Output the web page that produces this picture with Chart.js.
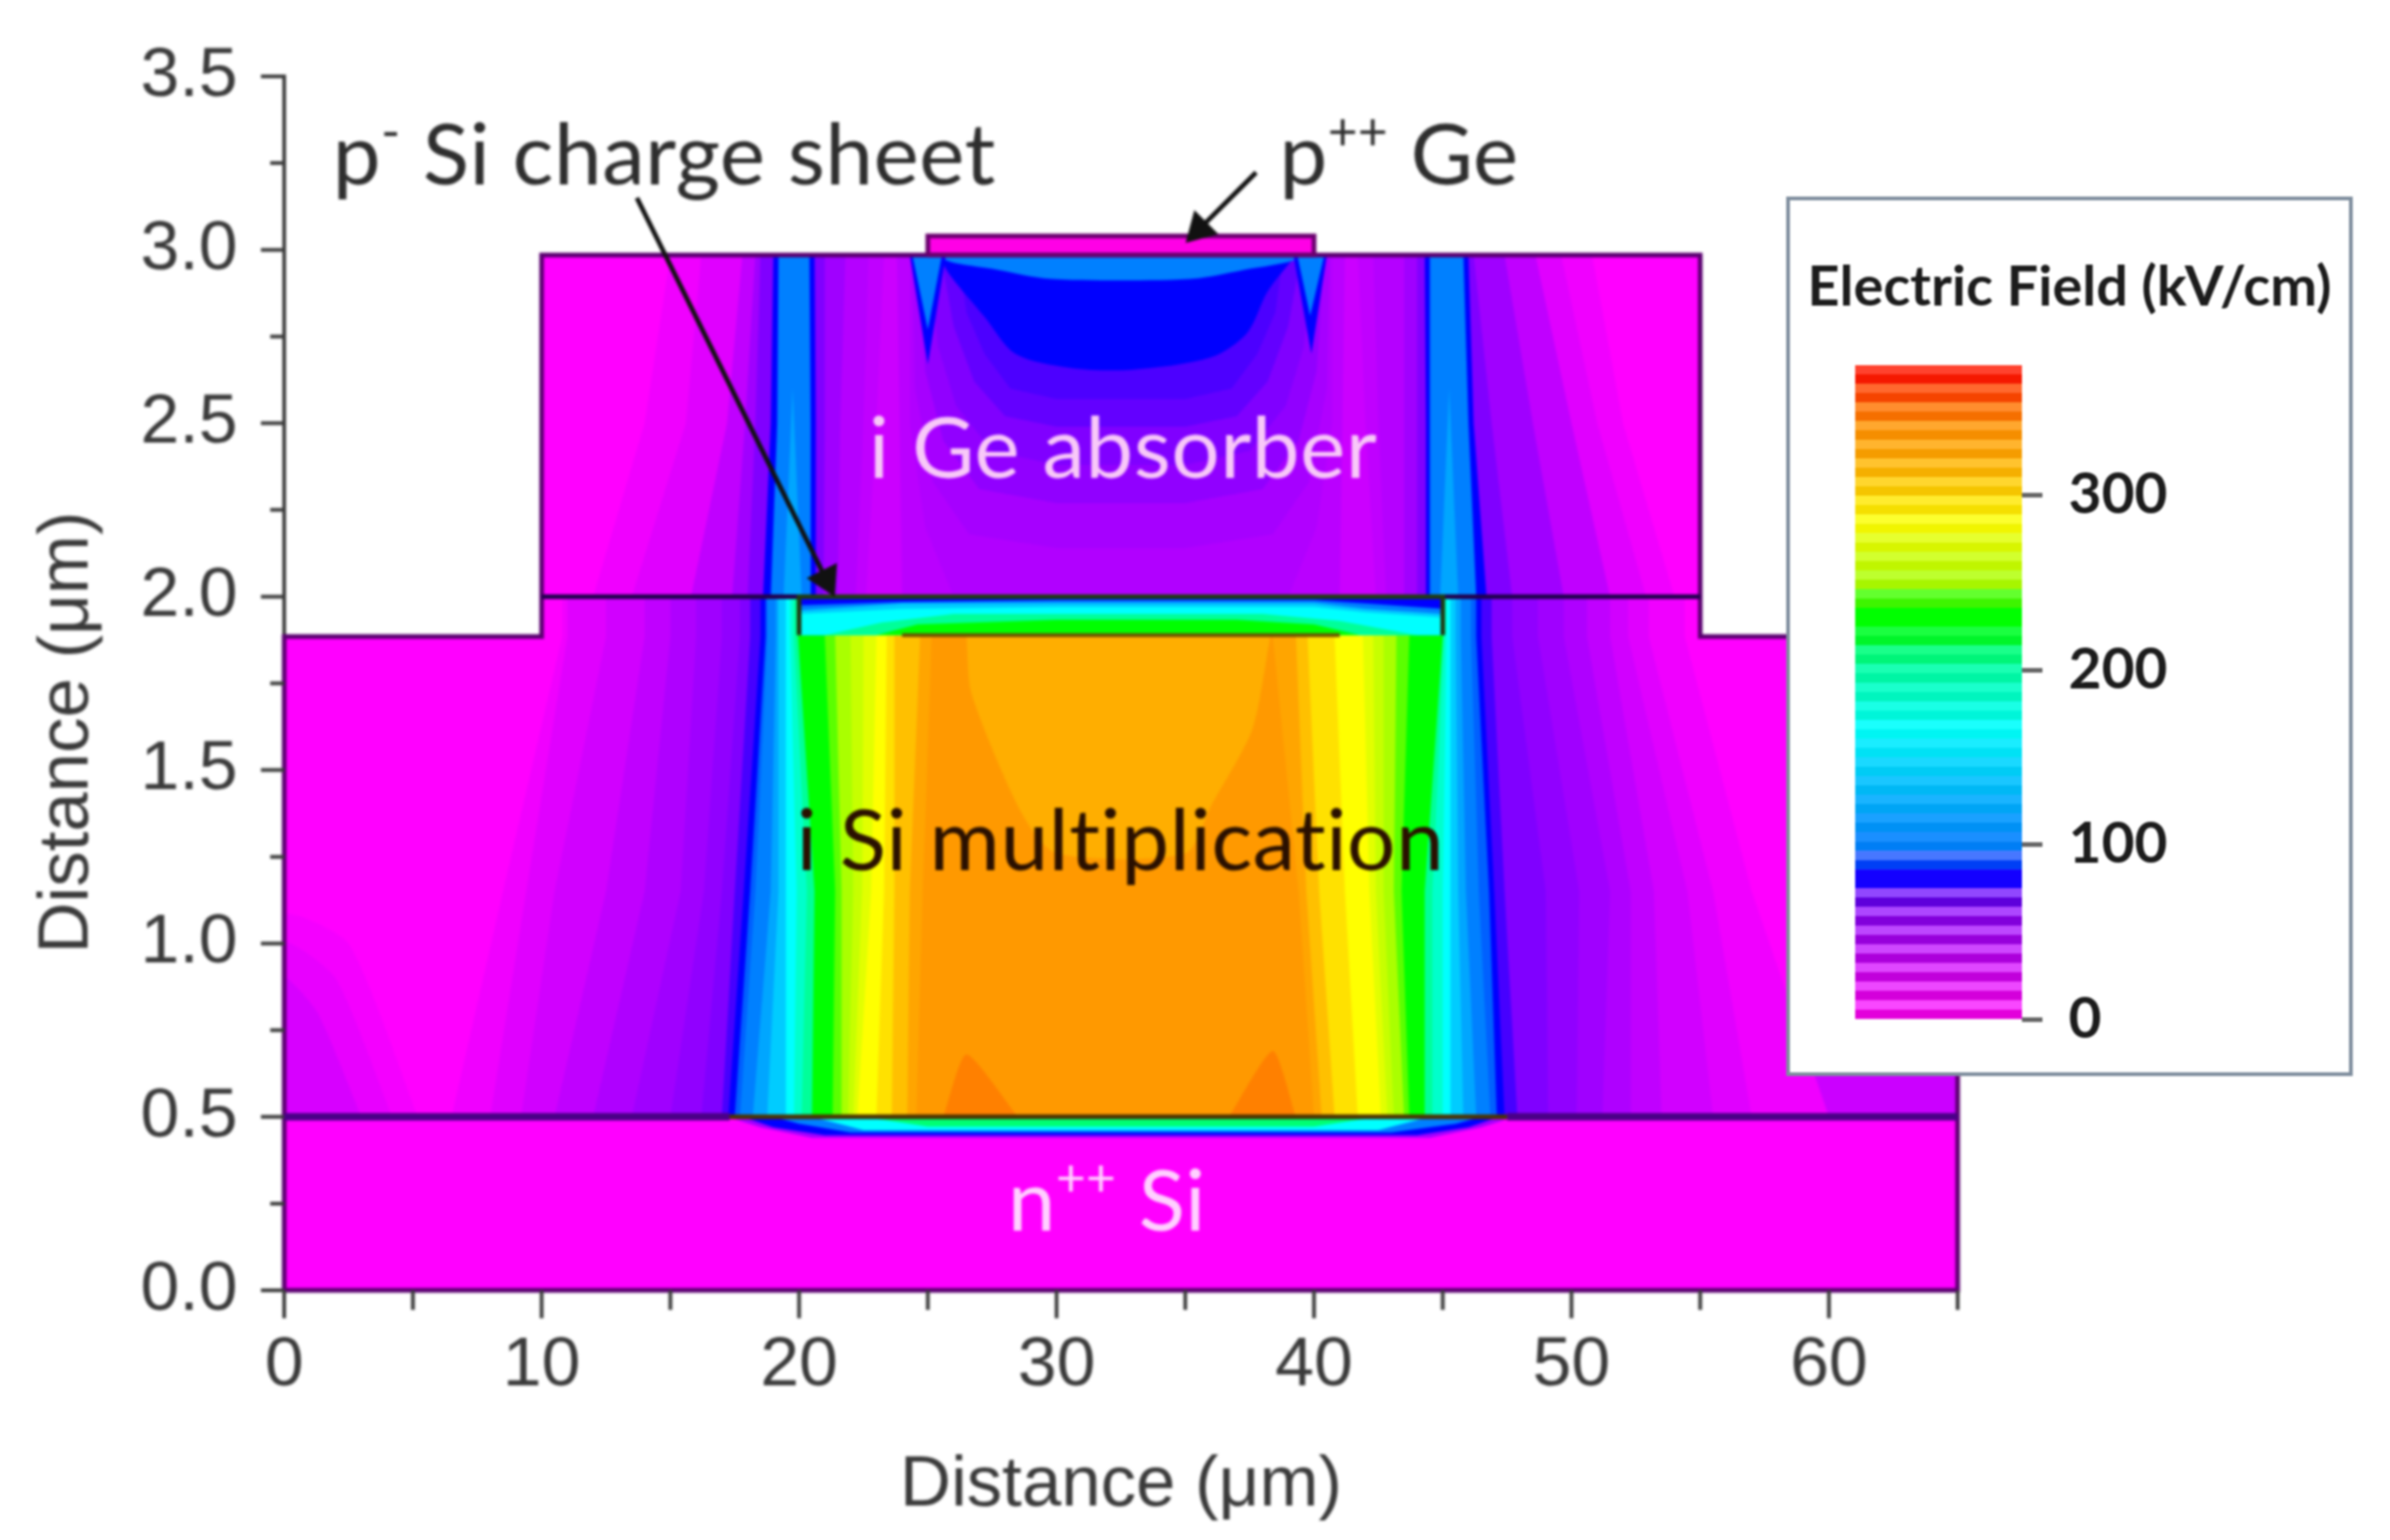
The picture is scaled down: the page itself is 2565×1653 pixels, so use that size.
<!DOCTYPE html>
<html>
<head>
<meta charset="utf-8">
<title>Electric field</title>
<script src="https://cdn.jsdelivr.net/npm/chart.js@4"></script>
<style>
  body { margin: 0; background: #fff; }
  #main { position: absolute; left: 0; top: 0; filter: blur(1.5px); }
  #legendBox { position: absolute; left: 1917px; top: 211px; width: 608px; height: 944px; box-sizing: border-box;
    border: 4px solid #7f8e9e; background: #fff; filter: blur(1.2px); }
  #legendBox canvas { display: block; }
</style>
</head>
<body>
<canvas id="main" width="2565" height="1653"></canvas>
<div id="legendBox"><canvas id="scale" width="600" height="936"></canvas></div>
<script>
// device cross-section, um
const outline = [[0,0],[65,0],[65,1.885],[55,1.885],[55,2.985],[10,2.985],[10,1.885],[0,1.885],[0,0]];
const contactCap = [[25,2.985],[25,3.04],[40,3.04],[40,2.985]];

// field levels (kV/cm) and where each contour sits
const siRows = [0.5, 1.15, 1.885, 2.0];
const siLevels = [10, 20, 27, 35, 43, 50, 57, 65, 75, 82, 95, 100, 120, 140, 165, 185, 205, 225, 235, 243, 250, 262, 273, 285, 297, 310, 325, 335];
const siLeft = [
  [6.5,8.5,10.8],[8,9.4,11],[9.2,10.5,12.5],[10.5,12.5,14],[12,14,15],[13.5,15.4,16],[15,16.3,17],
  [16.2,17,17.7],[17,17.5,18.1],[17.25,17.85,18.5],[17.5,18.1,18.7],[17.7,18.3,18.76],[18.2,18.9,19.1],
  [18.76,19.2,19.2],[19.48,19.5,19.48],[19.8,19.9,19.65],[20.1,20.3,19.8],[20.5,20.6,19.96],[21,21.05,20.7],
  [21.3,21.4,21],[21.65,21.65,21.4],[21.9,22.1,22],[22.1,22.45,22.5],[22.26,22.8,23],[23,23.3,23.4],
  [23.6,23.7,23.7],[24.2,24.3,24.7],[24.55,24.8,25.15]
];
const siRight = [
  [60,57,54.4],[57,55.5,53],[55.5,54.5,52.2],[53.5,53.2,51.5],[52.3,52.3,50.6],[51.2,51.5,49.7],[50.2,50.3,48.7],
  [49.1,49,47.7],[47.9,47.4,46.9],[47.4,47,46.5],[47.1,46.8,46.3],[46.85,46.4,46.1],[46.3,45.9,45.7],
  [45.8,45.6,45.5],[45.3,45.3,45.3],[45,45,45.15],[44.6,44.6,45.05],[44.3,44.3,45],[43.9,43.7,44.2],
  [43.7,43.4,43.7],[43.5,43.1,43.2],[43.1,42.7,42.7],[42.85,42.4,42.3],[42.6,42.15,41.9],[41.7,41.2,40.8],
  [40.8,40.2,39.75],[40.3,39.7,39.3],[40,39.4,38.4]
];
const siCoreValue = 320;
const siCore = [[26.5,1.885],[26.7,1.72],[28.65,1.375],[30,1.26],[35,1.26],[36,1.397],[37.6,1.617],[38.3,1.885]];
const siPeakValue = 345;
const siPeakLeft = [[25.6,0.5],[26.5,0.68],[28.5,0.5]];
const siPeakRight = [[36.7,0.5],[38.4,0.69],[39.3,0.5]];
const lobeValues = [7, 15, 24, 30];
const lobes = [
  [[0,0.5],[0,1.08],[2.5,1],[5.2,0.5]],
  [[0,0.5],[0,1.0],[2,0.9],[4.2,0.5]],
  [[0,0.5],[0,0.9],[1.3,0.8],[3,0.5]],
  [[58,0.5],[58,0.75],[65,0.75],[65,0.5]]
];

const geRows = [2.0, 2.5, 2.985];
const geLevels = [10, 20, 35, 50, 65, 82, 100];
const geLeft = [[12,14,15],[13.5,15.6,16.2],[15.8,17.2,17.8],[17.4,17.9,18.3],[18,18.3,18.5],[18.6,18.9,19],[18.9,19.15,19.2]];
const geRight = [[54,52,50.8],[52.9,51,49.6],[51.5,50,48.6],[49.7,48.5,47.4],[47.7,46.9,46.2],[46.7,46.2,46],[46.3,46,45.8]];
const stripCoreValue = 120;
const stripCores = [[[19.4,2.0],[19.75,2.6],[20.1,2.0]], [[44.9,2.0],[45.25,2.6],[45.6,2.0]]];
const geInnerLevels = [82, 65, 50, 40, 35, 30];
const geInnerLeft = [[20.45,20.45,20.4],[20.65,20.65,20.6],[20.95,21,21],[21.5,21.6,21.8],[22.2,22.5,22.7],[22.6,23,23.3]];
const geInnerRight = [[44.5,44.5,44.5],[44.35,44.35,44.3],[44,44,44],[43.5,43.5,43.5],[42.8,42.5,42.3],[42.4,42,41.7]];
const geCoreValues = [38, 42, 47, 57, 65, 70, 74];
const geCore = [
  [[24,2.0],[23.8,2.985],[41.2,2.985],[41,2.0]],
  [[26,2.0],[24.9,2.2],[24.3,2.5],[24.3,2.985],[40.7,2.985],[40.7,2.5],[40.1,2.2],[39,2.0]],
  [[30,2.14],[26.6,2.18],[25.2,2.33],[24.5,2.6],[24.4,2.985],[40.6,2.985],[40.5,2.6],[39.8,2.33],[38.4,2.18],[35,2.14]],
  [[30,2.27],[27,2.31],[25.6,2.45],[24.9,2.65],[24.6,2.985],[40.4,2.985],[40.1,2.65],[39.4,2.45],[38,2.31],[35,2.27]],
  [[30,2.38],[27.5,2.42],[26.1,2.55],[25.4,2.72],[25,2.985],[40,2.985],[39.6,2.72],[38.9,2.55],[37.5,2.42],[35,2.38]],
  [[30,2.49],[28,2.52],[26.8,2.62],[26,2.78],[25.5,2.985],[39.5,2.985],[39,2.78],[38.2,2.62],[37,2.52],[35,2.49]],
  [[30,2.57],[28.2,2.6],[27.2,2.7],[26.5,2.82],[26.2,2.985],[38.8,2.985],[38.5,2.82],[37.8,2.7],[36.8,2.6],[35,2.57]]
];
const dome = [[25.4,2.985],[25.9,2.923],[27.2,2.807],[28.4,2.7],[30.5,2.66],[32.9,2.654],[36,2.69],[37.4,2.76],[38.2,2.88],[39.3,2.985]];
const domeCap = [[25.3,2.985],[25.9,2.965],[27.5,2.945],[29.5,2.918],[32.5,2.912],[35.5,2.918],[37.5,2.945],[39,2.965],[39.7,2.985]];
const spikesBlue = [[[24.3,2.985],[25,2.67],[25.7,2.985]], [[39.2,2.985],[39.9,2.7],[40.5,2.985]]];
const spikesLight = [[[24.4,2.985],[25,2.77],[25.55,2.985]], [[39.35,2.985],[39.85,2.81],[40.4,2.985]]];

// p- charge sheet, contours from the top down
const sheetBox = [[20,1.889],[20,2.0],[45,2.0],[45,1.889]];
const sheetValues = [100, 140, 165, 205, 233];
const sheetLayers = [
  [[20,1.975],[24,1.985],[30,1.99],[40,1.99],[42,1.98],[45,1.965]],
  [[20,1.96],[24,1.98],[30,1.982],[40,1.982],[42,1.965],[45,1.95]],
  [[20,1.95],[24,1.965],[30,1.97],[40,1.97],[42,1.955],[45,1.94]],
  [[21,1.889],[23.2,1.925],[26,1.95],[38,1.95],[41,1.93],[44,1.889]],
  [[23,1.889],[24.6,1.92],[30,1.933],[37,1.933],[40,1.92],[41.8,1.889]]
];

// field leaking below the n++ interface
const bumpValues = [50, 82, 100, 165, 210];
const bumps = [
  [[17.2,0.5],[18.5,0.47],[20.5,0.44],[44.5,0.44],[46.5,0.47],[47.8,0.5]],
  [[17.8,0.5],[19,0.47],[21,0.447],[44,0.447],[46,0.47],[47.2,0.5]],
  [[19,0.5],[20,0.48],[22,0.455],[43,0.455],[45.5,0.48],[46.5,0.5]],
  [[20.5,0.5],[22.5,0.462],[42.5,0.462],[44.5,0.5]],
  [[22.5,0.5],[25,0.472],[40,0.472],[42.5,0.5]]
];

const arrowSheet = [[13.7,3.15],[21.05,2.05]];
const arrowCap = [[37.75,3.223],[35.55,3.06]];

const xTickLabels = [0, 10, 20, 30, 40, 50, 60];
const yTickLabels = [0, 0.5, 1, 1.5, 2, 2.5, 3, 3.5];

// legend colour bar, one stripe pair per level
const cbarLevels = [0,10.7,21.4,32.1,42.8,53.5,64.2,74.9,85.6,96.3,107,117.7,128.4,139.1,149.8,160.5,171.2,181.9,192.6,203.3,214,224.7,235.4,246.1,256.8,267.5,278.2,288.9,299.6,310.3,321,331.7,342.4,353.1,363.8,374.5];
const cbarTicks = [0, 100, 200, 300];

// colour map of the legend
const fieldStops = [
  [0,'#ff00ff'],[20,'#e000ff'],[35,'#c000ff'],[50,'#a000ff'],[65,'#8000ff'],[76,'#4000ff'],[82,'#0000ff'],[95,'#0060ff'],[100,'#0080ff'],
  [140,'#00ccff'],[165,'#00ffff'],[205,'#00ff99'],[225,'#00ff00'],[235,'#00ff00'],[250,'#aaff00'],[285,'#ffff00'],
  [310,'#ffc000'],[325,'#ffa500'],[335,'#ff9900'],[345,'#ff8000'],[360,'#ff4000'],[375,'#ff0000']
];

function rgb(hex) {
  return [1, 3, 5].map(i => parseInt(hex.substr(i, 2), 16));
}
function fieldRgb(v) {
  for (let i = 1; i < fieldStops.length; i++) {
    if (v <= fieldStops[i][0]) {
      const a = fieldStops[i - 1], b = fieldStops[i];
      const t = (v - a[0]) / (b[0] - a[0]);
      const ca = rgb(a[1]), cb = rgb(b[1]);
      return ca.map((c, k) => Math.round(c + (cb[k] - c) * t));
    }
  }
  return rgb(fieldStops[fieldStops.length - 1][1]);
}
function fieldColor(v) {
  return `rgb(${fieldRgb(v).join(',')})`;
}

function pts(list) {
  return list.map(p => ({ x: p[0], y: p[1] }));
}
function region(list, color, tension) {
  return { data: pts(list), fill: 'shape', backgroundColor: color, borderWidth: 0, pointRadius: 0, tension: tension || 0 };
}
function stroke(list, color, width) {
  return { data: pts(list), fill: false, borderColor: color, borderWidth: width, pointRadius: 0, tension: 0, clip: 8 };
}
// nested contour: left flank going up, right flank coming down
function contour(rows, left, right, extraTop) {
  const ys = rows.slice(0, left.length);
  const up = left.map((x, i) => [x, ys[i]]);
  const down = right.map((x, i) => [x, ys[i]]).reverse();
  if (extraTop !== undefined) {
    up.push([left[left.length - 1], extraTop]);
    down.unshift([right[right.length - 1], extraTop]);
  }
  return up.concat(down);
}

const sets = [];
sets.push(region(outline, '#ff00ff'));
lobes.forEach((l, i) => sets.push(region(l, fieldColor(lobeValues[i]), 0.2)));
siLevels.forEach((v, i) => sets.push(region(contour(siRows, siLeft[i], siRight[i], siRows[3]), fieldColor(v))));
sets.push(region(siCore, fieldColor(siCoreValue), 0.25));
sets.push(region(siPeakLeft, fieldColor(siPeakValue), 0.2));
sets.push(region(siPeakRight, fieldColor(siPeakValue), 0.2));
geLevels.forEach((v, i) => sets.push(region(contour(geRows, geLeft[i], geRight[i]), fieldColor(v))));
stripCores.forEach(s => sets.push(region(s, fieldColor(stripCoreValue))));
geInnerLevels.forEach((v, i) => sets.push(region(contour(geRows, geInnerLeft[i], geInnerRight[i]), fieldColor(v))));
geCoreValues.forEach((v, i) => sets.push(region(geCore[i], fieldColor(v))));
sets.push(region(dome, fieldColor(82), 0.3));
sets.push(region(domeCap, fieldColor(100), 0.3));
spikesBlue.forEach(s => sets.push(region(s, fieldColor(82))));
spikesLight.forEach(s => sets.push(region(s, fieldColor(100))));
sets.push(region(sheetBox, fieldColor(82)));
sheetLayers.forEach((l, i) => {
  const poly = l.concat([[l[l.length - 1][0], 1.889], [l[0][0], 1.889]]);
  sets.push(region(poly, fieldColor(sheetValues[i])));
});
bumps.forEach((b, i) => sets.push(region(b, fieldColor(bumpValues[i]))));
sets.push(region(contactCap, '#ff00e6'));

// structure lines
sets.push(stroke(outline, '#5a0070', 5));
sets.push(stroke(contactCap.concat([contactCap[0]]), '#6a006e', 5));
sets.push(stroke([[10,2],[55,2]], '#20004e', 5));
sets.push(stroke([[0,0.5],[17.3,0.5]], '#4a0088', 8));
sets.push(stroke([[47.5,0.5],[65,0.5]], '#4a0088', 8));
sets.push(stroke([[17.3,0.5],[47.5,0.5]], '#4a3200', 5));
sets.push(stroke(sheetBox, '#1f3a12', 5));
sets.push(stroke([[24,1.889],[41,1.889]], '#6a5000', 4));

// arrows
[[arrowSheet, 153.8], [arrowCap, 225]].forEach(a => {
  sets.push({
    data: pts(a[0]), fill: false, borderColor: '#111', borderWidth: 5, tension: 0, clip: false,
    pointStyle: 'triangle', pointRadius: [0, 16], pointRotation: [0, a[1]],
    pointBackgroundColor: '#111', pointBorderColor: '#111'
  });
});
sets.forEach((s, i) => { s.order = sets.length - i; });

// free text in the plot, in um; runs with sup go up and small
const notes = [
  { x: 1.88, y: 3.188, color: '#2e2e2e', runs: [{ t: 'p' }, { t: '-', sup: true }, { t: ' Si charge sheet' }] },
  { x: 38.65, y: 3.188, color: '#2e2e2e', runs: [{ t: 'p' }, { t: '++', sup: true }, { t: ' Ge' }] },
  { x: 22.7, y: 2.342, color: '#f8c8f8', runs: [{ t: 'i Ge absorber' }] },
  { x: 19.9, y: 1.211, color: '#2a1000', runs: [{ t: 'i Si multiplication' }] },
  { x: 28.1, y: 0.172, color: '#ffd0ff', runs: [{ t: 'n' }, { t: '++', sup: true }, { t: ' Si' }] }
];
const noteSize = 92;

const platePlugin = {
  id: 'plate',
  afterDatasetsDraw(chart) {
    const { ctx, scales: { x, y } } = chart;
    ctx.save();
    ctx.textBaseline = 'alphabetic';
    ctx.letterSpacing = '0.4px'; // also stops the ti ligature
    notes.forEach(n => {
      let px = x.getPixelForValue(n.x);
      const py = y.getPixelForValue(n.y);
      ctx.fillStyle = n.color;
      n.runs.forEach(r => {
        ctx.font = (r.sup ? noteSize * 0.6 : noteSize) + 'px Lato';
        ctx.fillText(r.t, px, r.sup ? py - noteSize * 0.4 : py);
        px += ctx.measureText(r.t).width;
      });
    });
    ctx.restore();
  },
  afterDraw(chart) {
    // long and short tick marks
    const { ctx, scales: { x, y }, chartArea } = chart;
    ctx.save();
    ctx.strokeStyle = '#3c3c3c';
    ctx.lineWidth = 4;
    ctx.beginPath();
    x.ticks.forEach(t => {
      const px = x.getPixelForValue(t.value);
      ctx.moveTo(px, chartArea.bottom);
      ctx.lineTo(px, chartArea.bottom + (t.value % 10 === 0 ? 30 : 21));
    });
    y.ticks.forEach(t => {
      const py = y.getPixelForValue(t.value);
      ctx.moveTo(chartArea.left, py);
      ctx.lineTo(chartArea.left - (Number.isInteger(t.value * 2) ? 25 : 15), py);
    });
    ctx.stroke();
    ctx.restore();
  }
};

const tickFont = { family: 'Liberation Sans', size: 75 };

new Chart(document.getElementById('main'), {
  type: 'line',
  data: { datasets: sets },
  plugins: [platePlugin],
  options: {
    responsive: false,
    devicePixelRatio: 1,
    animation: false,
    layout: { padding: { top: 82, right: 464, left: 0, bottom: 0 } },
    plugins: { legend: { display: false }, tooltip: { enabled: false } },
    scales: {
      x: {
        type: 'linear', min: 0, max: 65,
        afterFit: s => { s.height = 268; },
        grid: { display: false },
        border: { color: '#3c3c3c', width: 4 },
        ticks: {
          stepSize: 5, autoSkip: false, maxRotation: 0, padding: 28, color: '#3a3a3a', font: tickFont,
          callback: v => xTickLabels.includes(v) ? String(v) : ''
        },
        title: { display: true, text: 'Distance (μm)', color: '#3a3a3a', font: { family: 'Liberation Sans', size: 76 }, padding: { top: 0, bottom: 12 } }
      },
      y: {
        type: 'linear', min: 0, max: 3.5,
        afterFit: s => { s.width = 305; s.paddingTop = 0; s.paddingBottom = 0; },
        grid: { display: false },
        border: { color: '#3c3c3c', width: 4 },
        ticks: {
          stepSize: 0.25, autoSkip: false, padding: 42, color: '#3a3a3a', font: tickFont,
          callback: v => yTickLabels.includes(v) ? v.toFixed(1) : ''
        },
        title: { display: true, text: 'Distance (μm)     ', color: '#3a3a3a', font: { family: 'Liberation Sans', size: 76 }, padding: { top: 27, bottom: 0 } }
      }
    }
  }
});

// colour bar in the legend
function stripeColor(v, light) {
  const c = fieldRgb(v);
  if ((v > 78 && v < 90) || (v > 224 && v < 240)) return `rgb(${c.join(',')})`;
  let out;
  if (light) {
    const amt = v < 100 ? 0.28 : v < 225 ? 0.1 : 0.18;
    out = c.map(k => Math.round(k + (255 - k) * amt));
  } else if (v < 78) {
    out = [c[0] * 0.92, c[1], c[2] * 0.86].map(Math.round);
  } else {
    out = c.map(k => Math.round(k * 0.96));
  }
  return `rgb(${out.join(',')})`;
}
const cbarSets = [];
const bandOpts = { yAxisID: 'y', grouped: false, barPercentage: 1, categoryPercentage: 1 };
cbarLevels.slice(0, -1).forEach((lo, i) => {
  const hi = cbarLevels[i + 1];
  const mid = (lo + hi) / 2;
  cbarSets.push({ ...bandOpts, data: [[lo, mid]], backgroundColor: stripeColor(mid, false) });
  cbarSets.push({ ...bandOpts, data: [[mid, hi]], backgroundColor: stripeColor(mid, true) });
});

new Chart(document.getElementById('scale'), {
  type: 'bar',
  data: { labels: ['E'], datasets: cbarSets },
  options: {
    responsive: false,
    devicePixelRatio: 1,
    animation: false,
    layout: { padding: { left: 0, bottom: 57, top: 0, right: 0 } },
    plugins: {
      legend: { display: false },
      tooltip: { enabled: false },
      title: {
        display: true, text: 'Electric Field (kV/cm)', color: '#1c1c1c',
        font: { family: 'Lato', size: 60, weight: 'bold', lineHeight: 1.2 },
        padding: { top: 58, bottom: 47 }
      }
    },
    scales: {
      x: { display: false, grid: { display: false } },
      gutter: {
        position: 'left', display: true,
        afterFit: s => { s.width = 70; },
        grid: { display: false }, border: { display: false }, ticks: { display: false }
      },
      y: {
        position: 'right', min: 0, max: 374.5,
        afterFit: s => { s.width = 351; s.paddingTop = 0; s.paddingBottom = 0; },
        afterBuildTicks: s => { s.ticks = cbarTicks.map(v => ({ value: v })); },
        border: { display: false },
        grid: { drawOnChartArea: false, tickLength: 22, tickColor: '#666', tickWidth: 5 },
        ticks: { padding: 28, color: '#1c1c1c', font: { family: 'Lato', size: 61, weight: 'bold' } }
      }
    }
  }
});
</script>
</body>
</html>
